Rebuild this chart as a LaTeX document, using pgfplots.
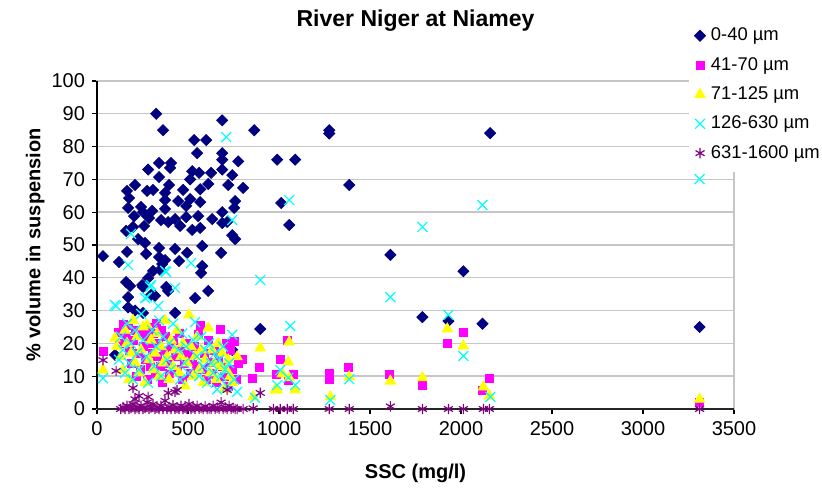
\documentclass[border=0pt]{standalone}
\usepackage{fontspec}
\setmainfont{Liberation Sans}
\usepackage{pgfplots}
\pgfplotsset{compat=1.18}
\definecolor{cNavy}{HTML}{000080}
\definecolor{cMag}{HTML}{FF00FF}
\definecolor{cYel}{HTML}{FFFF00}
\definecolor{cCya}{HTML}{00FFFF}
\definecolor{cPur}{HTML}{800080}

\begin{document}
\begin{tikzpicture}
\path[use as bounding box] (-48.5pt,-43.5pt) rectangle (362.5pt,204.5pt);
\begin{axis}[
    at={(0pt,0pt)}, anchor=south west,
    scale only axis, width=318.5pt, height=164pt,
    xmin=0, xmax=3500, ymin=0, ymax=100,
    xtick={0,500,...,3500}, ytick={0,10,...,100},
    xtick pos=bottom, ytick pos=left,
    tick align=outside, major tick length=2.5pt,
    tick style={black, line width=0.6pt},
    axis line style={gray!45, line width=0.7pt},
    ymajorgrids, grid style={gray!45, line width=0.7pt},
    scaled ticks=false,
    /pgf/number format/assume math mode=true,
    /pgf/number format/set thousands separator={},
    tick label style={font=\fontsize{10}{12}\selectfont},
    title={River Niger at Niamey},
    title style={font=\bfseries\fontsize{11.5}{13}\selectfont,
      at={(axis description cs:0.5,1.19)}, anchor=center, yshift=-7pt},
    xlabel={SSC (mg/l)},
    xlabel style={font=\bfseries\fontsize{10}{12}\selectfont,
      at={(axis description cs:0.5,-0.195)}, anchor=center},
    ylabel={\% volume in suspension},
    ylabel style={font=\bfseries\fontsize{10}{12}\selectfont,
      at={(axis description cs:-0.097,0.5)}, anchor=center},
    clip=false,
    legend cell align=left,
    legend style={at={(0.928,1.198)}, anchor=north west, draw=none,
      fill=white, font=\fontsize{9.2}{11}\selectfont,
      nodes={inner sep=2.7pt}, row sep=1.35pt,
      inner xsep=3pt, inner ysep=3pt},
  ]
  \draw[black, line width=0.9pt] (rel axis cs:0,1) -- (rel axis cs:0,0);
  \draw[black!85, line width=0.9pt] (rel axis cs:0,0) -- (rel axis cs:1,0);

  % 0-40 um
  \addplot[only marks, mark=square*, mark size=1.95pt, color=cNavy,
    mark options={rotate=45}] coordinates {
    (33,46.6) (99,16.5) (121,44.8) (160,54.3) (160,38.7) (165,47.9)
    (165,66.5) (171,61.3) (171,34.1) (171,31) (176,64.3) (182,37.5)
    (198,55.5) (204,58.8) (209,68.3) (209,30) (226,51.8) (242,61.6)
    (248,37.8) (253,60) (253,37.2) (253,29.3) (259,55.8) (264,50.6)
    (270,47.3) (275,66.5) (281,73) (281,39.9) (286,58.2) (297,34.8)
    (303,60.4) (308,66.8) (308,42.1) (319,34.5) (325,90) (341,75)
    (341,70.7) (341,49.1) (341,46.3) (347,42.4) (352,57.6) (358,44.2)
    (363,85) (374,65.9) (374,63.7) (374,61) (374,45.4) (380,37.2)
    (391,57) (391,36) (396,68.3) (402,73.5) (407,75) (429,57.9)
    (429,48.8) (429,29.3) (446,63.4) (451,45.1) (457,55.8) (473,66.8)
    (490,61.9) (490,58.5) (495,47.6) (512,70) (512,64) (523,72.5)
    (523,54.6) (534,82) (539,33.8) (550,78) (556,58.8) (561,72)
    (567,67) (567,63.1) (567,55.2) (572,41.5) (578,49.7) (578,43.6)
    (600,82) (611,68.6) (611,36) (627,72) (633,57.9) (682,47.6)
    (688,88) (688,78) (688,76) (688,73) (688,60) (688,56.7)
    (715,57) (721,68.3) (743,71.3) (743,53) (743,18) (754,61.3)
    (759,63.4) (759,51.8) (776,75.5) (803,67.4) (864,85) (897,24.4)
    (990,76) (1012,62.8) (1056,56.1) (1089,76) (1276,85) (1276,84)
    (1386,68.3) (1612,47) (1788,28) (1931,26.8) (2013,42) (2118,26)
    (2160,84.1) (3311,25)
  };
  \addlegendentry{0-40 µm}

  % 41-70 um
  \addplot[only marks, mark=square*, mark size=2pt, color=cMag] coordinates {
    (33,17.7) (116,23.5) (121,20) (143,25.9) (160,22) (171,25.6)
    (176,18) (187,14) (198,21) (209,24) (215,10) (226,17) (237,12)
    (248,23.5) (253,19) (264,15) (270,22) (275,9) (281,25) (292,13)
    (297,20) (303,17) (308,23) (319,11) (325,26) (330,16) (336,20)
    (347,13) (352,24) (358,8) (369,18) (374,22) (385,14) (396,11)
    (407,19) (418,21) (429,16) (440,12) (451,23) (457,18) (468,9)
    (479,14) (490,20) (501,17) (512,11) (523,15) (534,19) (545,13)
    (556,22.6) (567,25.6) (578,12) (589,17) (600,9) (611,21)
    (622,14.3) (633,11) (644,18) (655,8) (666,15) (677,24.4) (688,13)
    (699,10) (710,20) (721,7) (732,18) (743,12) (754,20.7) (765,9)
    (776,14) (798,15.2) (853,9.4) (891,12.8) (985,10.4) (1007,15.2)
    (1045,20.8) (1051,8.8) (1078,10.4) (1276,11) (1276,9.1)
    (1381,12.8) (1606,10.4) (1788,7.3) (1925,20.1) (2013,23.5)
    (2118,5.6) (2156,9.2) (3311,2.1)
  };
  \addlegendentry{41-70 µm}

  % 71-125 um
  \addplot[only marks, mark=triangle*, mark size=3pt, color=cYel] coordinates {
    (33,11.9) (99,21.6) (110,19) (132,16) (143,12) (154,24) (165,20)
    (176,9) (187,17) (198,27) (209,14) (220,22) (231,11) (242,18)
    (253,25) (264,8) (275,25.6) (286,15) (297,21) (308,12) (319,17)
    (330,23) (341,10) (352,19) (363,14) (374,27) (385,16) (396,9)
    (407,21) (418,13) (429,18) (440,24) (451,11) (462,16) (473,20)
    (484,7) (495,14) (506,28.7) (517,19) (528,10) (539,16) (550,22)
    (561,12) (572,18) (583,8) (594,15) (611,24.7) (622,11) (633,18)
    (644,14) (655,9) (666,20) (677,13) (688,17) (699,6) (710,12)
    (721,15) (732,10) (743,8) (770,15.9) (858,3.7) (897,18.6)
    (979,5.8) (990,5.8) (1018,10.7) (1051,14.3) (1056,20.4)
    (1056,9.5) (1089,5.8) (1282,3.7) (1386,9.8) (1612,8.5)
    (1788,9.5) (1925,24.4) (2013,19.2) (2123,6.7) (2156,4) (3311,3)
  };
  \addlegendentry{71-125 µm}

  % 126-630 um
  \addplot[only marks, mark=x, mark size=3.5pt, color=cCya,
    mark options={line width=0.6pt}] coordinates {
    (33,9.4) (99,31.7) (105,31.4) (121,15) (132,22) (143,18) (154,11)
    (165,26) (171,43.9) (176,14) (187,53.4) (187,20) (198,9) (209,24)
    (220,17) (231,12) (242,29) (253,21) (264,33.8) (270,16)
    (275,34.1) (281,8) (292,37.2) (297,37.8) (303,24) (314,13)
    (325,19) (336,31.4) (341,27) (352,10) (363,22) (374,42.1)
    (380,41.8) (385,15) (396,20) (407,12) (418,26) (429,36.9)
    (446,18) (457,9) (468,23) (479,14) (490,19) (501,11) (517,44.5)
    (528,21) (539,26.5) (550,16) (561,10) (572,22) (583,13) (594,18)
    (605,8) (616,20) (627,14) (638,11) (649,17) (660,6) (671,15)
    (682,10) (693,19) (704,12) (710,82.9) (715,7) (726,14)
    (743,57.6) (743,22.6) (754,9) (770,5.2) (869,3.4) (897,39.3)
    (990,7.3) (1007,11.9) (1051,9.5) (1056,63.7) (1062,25.3)
    (1089,7.3) (1282,2.7) (1386,9.1) (1612,34.1) (1788,55.5)
    (1931,28.7) (2013,16.2) (2118,62.2) (2161,3.7) (3311,70.1)
  };
  \addlegendentry{126-630 µm}

  % 631-1600 um
  \addplot[only marks, mark=asterisk, mark size=2.6pt, color=cPur,
    mark options={line width=0.6pt}] coordinates {
    (33,14.9) (105,11.6) (198,6.4) (209,3) (231,4) (281,3.7)
    (391,4.9) (429,5.2) (440,5.8) (715,5.8) (897,4.9)
    (130,0) (143,0.5) (154,0) (165,1) (176,0) (187,0.3) (198,1.5)
    (209,0) (220,0.5) (231,0) (242,1) (253,0) (264,0.3) (275,2)
    (286,0) (297,0.5) (308,1.5) (319,0) (330,0.4) (341,0) (352,1)
    (363,0) (374,2.5) (385,0) (396,0.6) (407,0) (418,1.2) (429,0)
    (440,0.3) (451,0) (462,1) (473,0) (484,0.4) (495,0) (506,1.5)
    (517,0) (528,0.5) (539,0) (550,1) (561,0) (572,0.3) (583,0)
    (594,0.8) (605,0) (616,0.2) (627,0) (638,1) (649,0) (660,0.4)
    (671,0) (682,2) (693,0) (704,0.5) (715,0) (726,1) (737,0)
    (748,0.3) (759,0) (770,0) (803,0) (858,0.2) (969,0) (1007,0)
    (1045,0) (1078,0) (1276,0) (1386,0) (1612,0.8) (1788,0)
    (1931,0) (2013,0) (2123,0) (2156,0) (3311,0)
  };
  \addlegendentry{631-1600 µm}
\end{axis}
\end{tikzpicture}
\end{document}
